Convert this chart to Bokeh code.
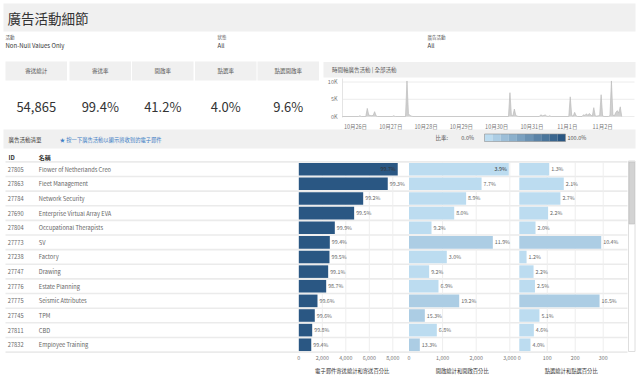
import numpy as np
import pandas as pd
from bokeh.plotting import figure
from bokeh.models import Range1d, ColumnDataSource, LinearColorMapper
from bokeh.transform import transform
from bokeh.core.properties import value
from bokeh.embed import file_html
from bokeh.resources import INLINE

# ---------------- data ----------------
title = "廣告活動細節"
filter_labels = ["活動", "狀態", "廣告活動"]
filter_values = ["Non-Null Values Only", "All", "All"]
kpi_labels = ["寄送總計", "寄送率", "開啟率", "點選率", "點選開啟率"]
kpi_values = ["54,865", "99.4%", "41.2%", "4.0%", "9.6%"]

ts_title = "時間軸廣告活動 | 全部活動"
day_labels = ["10月26日", "10月27日", "10月28日", "10月29日", "10月30日", "10月31日", "11月1日", "11月2日"]
day_offsets = [0, 1, 2, 3, 4, 5, 6, 7]
vol_ticks = [0, 5000, 10000]
vol_tick_labels = ["0K", "5K", "10K"]
# hours since 10月26日 00:00 and emails per hour
ts_hours = [-9, 2, 3, 4, 7, 8, 9, 10, 11, 12, 13, 14, 15,
            25, 26, 27, 34, 35, 36, 37, 38, 39,
            104, 105, 106, 107, 108, 109, 110, 111,
            125, 126, 127, 128, 129, 130, 131, 132, 133,
            145, 146, 147, 148, 149, 150, 151,
            154, 155, 156, 157, 158, 159, 160, 161, 162, 163, 164, 165, 166, 167, 168, 169,
            172, 173, 174, 175, 176, 177, 178, 179, 180, 181]
ts_counts = [0, 0, 200, 0, 0, 2350, 400, 300, 250, 300, 1400, 200, 0,
             0, 200, 0, 0, 10300, 800, 300, 100, 0,
             0, 6900, 300, 200, 2150, 300, 100, 0,
             0, 500, 200, 300, 450, 100, 0, 200, 0,
             0, 5700, 300, 100, 1200, 200, 0,
             0, 500, 300, 800, 300, 900, 400, 100, 2550, 200, 100, 200, 300, 6300, 200, 0,
             0, 300, 10300, 400, 200, 1200, 1700, 1000, 2800, 0]

list_title = "廣告活動清單"
list_hint = "★ 按一下廣告活動以顯示將收到的電子郵件"
legend_title = "比率:"
legend_low = "0.0%"
legend_high = "100.0%"
col_headers = ["ID", "名稱"]

campaign_ids = ["27805", "27863", "27784", "27690", "27804", "27773", "27238",
                "27747", "27776", "27775", "27745", "27811", "27832"]
campaign_names = ["Flower of Netherlands Creo", "Fleet Management", "Network Security",
                  "Enterprise Virtual Array EVA", "Occupational Therapists", "SV", "Factory",
                  "Drawing", "Estate Planning", "Seismic Attributes", "TPM", "CBD",
                  "Employee Training"]
sent = [8420, 7570, 5480, 4710, 3065, 2640, 2610, 2500, 2330, 1590, 1360, 1140, 1060]
sent_rate = [99.7, 99.3, 99.2, 99.5, 99.9, 99.4, 99.5, 99.1, 98.7, 99.6, 99.6, 99.8, 99.4]
opens = [2970, 2160, 1700, 1345, 670, 2495, 1125, 600, 878, 1494, 471, 828, 322]
open_rate = [3.9, 7.7, 8.9, 8.0, 9.2, 11.9, 3.0, 9.2, 6.9, 19.2, 15.3, 6.8, 13.3]
clicks = [107, 159, 147, 103, 58, 293, 26, 51, 56, 287, 72, 52, 40]
click_rate = [1.3, 2.1, 2.7, 2.2, 2.0, 10.4, 1.2, 2.2, 2.5, 16.5, 5.1, 4.6, 4.0]

sent_ticks = [0, 2000, 4000, 6000, 8000]
open_ticks = [0, 1000, 2000, 3000]
click_ticks = [0, 100, 200, 300]
axis_titles = ["電子郵件寄送總計和寄送百分比", "開啟總計和開啟百分比", "點選總計和點選百分比"]

# ---------------- styling / layout ----------------
FONT = value("Noto Sans CJK TC")
W, H = 640, 387
PANEL = "#f0f0f0"
DARK = "#333333"
MID = "#555555"
LIGHT = "#777777"

def interp_palette(c0, c1, n):
    a = np.array([int(c0[i:i + 2], 16) for i in (1, 3, 5)], float)
    b = np.array([int(c1[i:i + 2], 16) for i in (1, 3, 5)], float)
    out = []
    for t in np.linspace(0, 1, n):
        c = a + (b - a) * t
        out.append("#%02x%02x%02x" % tuple(int(round(v)) for v in c))
    return out

palette = interp_palette("#bcdcf0", "#2a5783", 10)
mapper = LinearColorMapper(palette=palette, low=0, high=1)

p = figure(width=W, height=H, x_range=Range1d(0, W), y_range=Range1d(H, 0),
           output_backend="svg", toolbar_location=None, min_border=0,
           x_axis_location=None, y_axis_location=None, outline_line_color=None,
           background_fill_color="white", border_fill_color="white")
for g in list(p.xgrid) + list(p.ygrid):
    g.visible = False

# scales for the sub-panels (pixel anchor of value 0, px per unit)
def xrange_from(px0, scale, v0=0.0):
    return Range1d(start=v0 - px0 / scale, end=v0 + (W - px0) / scale)

SENT_X0, SENT_S = 298.3, 94.0 / 8000
OPEN_X0, OPEN_S = 408.5, 100.8 / 3000
CLICK_X0, CLICK_S = 518.8, 83.9 / 300
base = pd.Timestamp("2016-10-26")
base_ms = base.value / 1e6
T_X0, T_S = 355.0, (35.3 / 24) / 3.6e6
ROW_Y0, ROW_S = 168.7, 14.63
VOL_Y0, VOL_S = 116.0, 34.5 / 10000

p.extra_x_ranges = {
    "sent": xrange_from(SENT_X0, SENT_S),
    "open": xrange_from(OPEN_X0, OPEN_S),
    "click": xrange_from(CLICK_X0, CLICK_S),
    "time": xrange_from(T_X0, T_S, base_ms),
}
p.extra_y_ranges = {
    "rows": Range1d(start=(H - ROW_Y0) / ROW_S, end=-ROW_Y0 / ROW_S),
    "vol": Range1d(start=(VOL_Y0 - H) / VOL_S, end=VOL_Y0 / VOL_S),
}

def txt(x, y, t, size, color=DARK, align="left", baseline="middle", xr="default", yr="default", style="normal"):
    p.text(x=x, y=y, text=t, text_font=FONT, text_font_size=value(size), text_color=color,
           text_align=align, text_baseline=baseline, text_font_style=style,
           x_range_name=xr, y_range_name=yr)

# ---- title bar ----
p.quad(left=3, right=635, top=3, bottom=31, fill_color=PANEL, line_color=None)
txt([7], [17.5], [title], "13.5px", color=DARK)

# ---- filters ----
fx = [5, 217, 427]
txt(fx, [36.5] * 3, filter_labels, "4.5px", color=MID)
txt(fx, [44.5] * 3, filter_values, "6px", color=DARK)

# ---- KPI tiles ----
kl = [5, 69, 131.5, 194.5, 257]
kw = 61.5
p.quad(left=kl, right=[v + kw for v in kl], top=[61] * 5, bottom=[80] * 5, fill_color=PANEL, line_color=None)
kc = [v + kw / 2 for v in kl]
txt(kc, [70.5] * 5, kpi_labels, "5.5px", color=MID, align="center")
txt(kc, [106] * 5, kpi_values, "13px", color=DARK, align="center")

# ---- time series ----
p.quad(left=323, right=635, top=61.5, bottom=77, fill_color=PANEL, line_color=None)
txt([331.5], [69], [ts_title], "5.5px", color=MID)
p.segment(x0=[342] * 3, x1=[634] * 3, y0=vol_ticks, y1=vol_ticks, line_color="#ececec", line_width=1, y_range_name="vol")
p.segment(x0=[342], x1=[342], y0=[78], y1=[117], line_color="#e4e4e4", line_width=1)
ts_time = [base + pd.Timedelta(hours=h) for h in ts_hours]
ts_src = ColumnDataSource(dict(t=ts_time, c=ts_counts, z=[0] * len(ts_counts)))
p.varea(x="t", y1="z", y2="c", source=ts_src, fill_color="#d0d0d0", x_range_name="time", y_range_name="vol")
p.line(x="t", y="c", source=ts_src, line_color="#bcbcbc", line_width=0.7, x_range_name="time", y_range_name="vol")
txt([337] * 3, vol_ticks, vol_tick_labels, "5.5px", color=LIGHT, align="right", yr="vol")
day_times = [base + pd.Timedelta(days=d) for d in day_offsets]
txt(day_times, [126] * len(day_times), day_labels, "5.5px", color=LIGHT, align="center", xr="time")

# ---- list header + legend ----
p.quad(left=3, right=635, top=129, bottom=148, fill_color=PANEL, line_color=None)
txt([8], [139.5], [list_title], "5.5px", color=DARK)
txt([59.3], [139.5], [list_hint], "5.3px", color="#3c7dc4")
txt([435], [137.5], [legend_title], "5.5px", color=MID)
txt([473.5], [137.5], [legend_low], "5.5px", color=MID, align="right")
gl, gr = 484, 565
step = (gr - gl) / len(palette)
p.quad(left=[gl + i * step for i in range(len(palette))], right=[gl + (i + 1) * step for i in range(len(palette))],
       top=[133.5] * len(palette), bottom=[141] * len(palette), fill_color=palette, line_color=None)
p.quad(left=[gl], right=[gr], top=[133.5], bottom=[141], fill_color=None, line_color="#8f8f8f", line_width=0.6)
txt([567], [137.5], [legend_high], "5.5px", color=MID)

# ---- table ----
txt([8, 38.3], [157, 157], col_headers, "6px", color=DARK, style="bold")
nrows = len(campaign_ids)
rows = list(range(nrows))
p.hbar(y=[r - 0.5 for r in range(nrows + 1)], left=5, right=627, height=0.11,
       fill_color="#ebebeb", line_color=None, y_range_name="rows")
txt([7.3] * nrows, rows, campaign_ids, "5.7px", color="#666666", yr="rows")
txt([38.3] * nrows, rows, campaign_names, "5.7px", color="#666666", yr="rows")

panels = [
    ("sent", sent, sent_rate, sent_ticks, SENT_S, 9080),
    ("open", opens, open_rate, open_ticks, OPEN_S, 3200),
    ("click", clicks, click_rate, click_ticks, CLICK_S, 387),
]
title_x = [351.7, 461.7, 570.7]
for (name, vals, rates, ticks, scale, pend), ttl, tx in zip(panels, axis_titles, title_x):
    gt = [t for t in ticks if t > 0]
    p.segment(x0=gt, x1=gt, y0=[-0.5] * len(gt), y1=[nrows - 0.5] * len(gt), line_color="#eeeeee",
              line_width=1, x_range_name=name, y_range_name="rows")
    src = ColumnDataSource(dict(y=rows, v=vals, r=[x / 100 for x in rates]))
    p.hbar(y="y", left=0, right="v", height=0.86, source=src, fill_color=transform("r", mapper),
           line_color=None, x_range_name=name, y_range_name="rows")
    lab = ["%.1f%%" % r for r in rates]
    lw = 17 / scale
    pad = 2 / scale
    ins = [i for i in rows if vals[i] + lw > pend]
    outs = [i for i in rows if vals[i] + lw <= pend]
    if outs:
        txt([vals[i] + pad for i in outs], outs, [lab[i] for i in outs], "5.3px", color="#666666",
            xr=name, yr="rows")
    if ins:
        txt([vals[i] - pad for i in ins], ins, [lab[i] for i in ins], "5.3px", color=DARK,
            align="right", xr=name, yr="rows")
    txt(ticks, [357] * len(ticks), ["{:,}".format(t) for t in ticks], "5.3px", color=LIGHT,
        align="center", xr=name)
    txt([tx], [370], [ttl], "5.3px", color=DARK, align="center")

# ---- scrollbar ----
p.quad(left=[628], right=[634.5], top=[160.5], bottom=[351], fill_color="white", line_color="#d6d6d6", line_width=0.8)
p.quad(left=[628.5], right=[634], top=[161.5], bottom=[223.5], fill_color="#d3d3d3", line_color="#bdbdbd", line_width=0.6)

open("out.html", "w").write(file_html(p, INLINE))
